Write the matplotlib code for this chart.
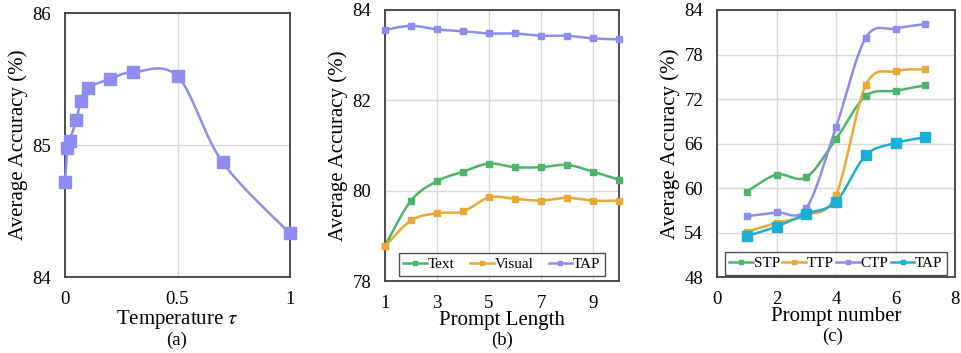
import numpy as np
import matplotlib
matplotlib.use("Agg")
import matplotlib.pyplot as plt
from matplotlib.lines import Line2D

plt.rcParams['font.family'] = ['Liberation Serif', 'DejaVu Serif']
plt.rcParams['mathtext.fontset'] = 'stix'

# ---------------- data ----------------
temp_x = [0.0, 0.01, 0.02, 0.05, 0.07, 0.1, 0.2, 0.3, 0.5, 0.7, 1.0]
temp_acc = [84.72, 84.98, 85.03, 85.19, 85.33, 85.43, 85.50, 85.55, 85.52, 84.87, 84.33]

length_x = [1, 2, 3, 4, 5, 6, 7, 8, 9, 10]
len_text = [78.78, 79.78, 80.21, 80.42, 80.60, 80.52, 80.52, 80.57, 80.42, 80.24]
len_visual = [78.77, 79.34, 79.50, 79.54, 79.85, 79.82, 79.78, 79.84, 79.78, 79.78]
len_tap = [83.56, 83.65, 83.57, 83.53, 83.48, 83.48, 83.43, 83.43, 83.37, 83.35]

num_x = [1, 2, 3, 4, 5, 6, 7]
num_stp = [59.5, 61.8, 61.45, 66.6, 72.4, 73.1, 73.85]
num_ttp = [54.1, 55.3, 56.3, 59.1, 73.85, 75.75, 76.0]
num_ctp = [56.2, 56.7, 57.25, 68.2, 80.25, 81.5, 82.1]
num_tap = [53.5, 54.8, 56.5, 58.15, 64.4, 66.05, 66.85]

C_PURPLE = '#8c8cf2'
C_GREEN = '#4db56a'
C_ORANGE = '#e9a935'
C_CYAN = '#1ab0d4'
GRID = '#d9d9d9'
SPINE = '#3f3f3f'


def smooth(x, y, xr, yr, n=40):
    """Excel-like smoothed line (Bezier through points, in screen-normalized space)."""
    x = np.asarray(x, float); y = np.asarray(y, float)
    sx = (x - xr[0]) / (xr[1] - xr[0]); sy = (y - yr[0]) / (yr[1] - yr[0])
    P = np.column_stack([sx, sy])
    m = len(P)
    out = []
    for i in range(m - 1):
        p0 = P[i - 1] if i > 0 else P[i]
        p1 = P[i]; p2 = P[i + 1]
        p3 = P[i + 2] if i + 2 < m else P[i + 1]
        c1 = p1 + (p2 - p0) / 6.0
        c2 = p2 - (p3 - p1) / 6.0
        t = np.linspace(0, 1, n)[:, None]
        seg = ((1 - t) ** 3) * p1 + 3 * ((1 - t) ** 2) * t * c1 + 3 * (1 - t) * t ** 2 * c2 + t ** 3 * p2
        out.append(seg if i == 0 else seg[1:])
    Q = np.vstack(out)
    return Q[:, 0] * (xr[1] - xr[0]) + xr[0], Q[:, 1] * (yr[1] - yr[0]) + yr[0]


def style(ax):
    for s in ax.spines.values():
        s.set_color(SPINE)
        s.set_linewidth(1.3)
    ax.tick_params(length=0, labelsize=13.5, pad=10)
    ax.grid(True, color=GRID, linewidth=1.0)
    ax.set_axisbelow(True)


def series(ax, x, y, xr, yr, color, ms, lw=1.8, label=None):
    sx, sy = smooth(x, y, xr, yr)
    ax.plot(sx, sy, color=color, lw=lw, zorder=3, clip_on=False)
    ax.plot(x, y, linestyle='none', marker='s', ms=ms, color=color, zorder=4, clip_on=False)
    return Line2D([], [], color=color, lw=lw, marker='s', ms=3.5, label=label)


W, H = 961, 353
fig = plt.figure(figsize=(W / 100, H / 100), dpi=100)


def box(l, t, r, b):
    return [l / W, 1 - b / H, (r - l) / W, (b - t) / H]


def legend(ax, handles, ncol, anchor_y, colsp):
    leg = ax.legend(handles=handles, loc='lower center', bbox_to_anchor=(0.5, anchor_y), ncol=ncol,
                    fontsize=11, frameon=True, fancybox=False, handlelength=1.55,
                    handletextpad=0.05, columnspacing=colsp, borderpad=0.3, borderaxespad=0.15)
    leg.get_frame().set_edgecolor('#222222')
    leg.get_frame().set_linewidth(1.0)
    return leg


# ---------------- (a) ----------------
axa = fig.add_axes(box(65, 13, 290, 277))
xr, yr = (0, 1), (84, 86)
axa.set_xlim(*xr); axa.set_ylim(*yr)
series(axa, temp_x, temp_acc, xr, yr, C_PURPLE, ms=8.5, lw=1.8)
axa.set_xticks([0, 0.5, 1]); axa.set_xticklabels(['0', '0.5', '1'])
axa.set_yticks([84, 85, 86])
style(axa)
axa.set_ylabel('Average Accuracy (%)', fontsize=15, labelpad=3)
axa.set_xlabel(r'Temperature $\tau$', fontsize=15, labelpad=0)
fig.text(177 / W, 1 - 340 / H, '(a)', ha='center', va='center', fontsize=13.5)

# ---------------- (b) ----------------
axb = fig.add_axes(box(385, 10, 619, 281))
xr, yr = (1, 10), (78, 84)
axb.set_xlim(*xr); axb.set_ylim(*yr)
h1 = series(axb, length_x, len_text, xr, yr, C_GREEN, ms=4.5, label='Text')
h2 = series(axb, length_x, len_visual, xr, yr, C_ORANGE, ms=4.5, label='Visual')
h3 = series(axb, length_x, len_tap, xr, yr, C_PURPLE, ms=4.5, label='TAP')
axb.set_xticks([1, 3, 5, 7, 9]); axb.set_yticks([78, 80, 82, 84])
style(axb)
axb.set_ylabel('Average Accuracy (%)', fontsize=15, labelpad=3)
axb.set_xlabel('Prompt Length', fontsize=15, labelpad=-1)
legend(axb, [h1, h2, h3], 3, 0.01, 1.0)
fig.text(502 / W, 1 - 340 / H, '(b)', ha='center', va='center', fontsize=13.5)

# ---------------- (c) ----------------
axc = fig.add_axes(box(717, 10, 955, 277))
xr, yr = (0, 8), (48, 84)
axc.set_xlim(*xr); axc.set_ylim(*yr)
g1 = series(axc, num_x, num_stp, xr, yr, C_GREEN, ms=4.5, label='STP')
g2 = series(axc, num_x, num_ttp, xr, yr, C_ORANGE, ms=4.5, label='TTP')
g3 = series(axc, num_x, num_ctp, xr, yr, C_PURPLE, ms=4.5, label='CTP')
g4 = series(axc, num_x, num_tap, xr, yr, C_CYAN, ms=6.5, label='TAP')
axc.set_xticks([0, 2, 4, 6, 8]); axc.set_yticks([48, 54, 60, 66, 72, 78, 84])
style(axc)
axc.set_ylabel('Average Accuracy (%)', fontsize=15, labelpad=3)
axc.set_xlabel('Prompt number', fontsize=15, labelpad=-1)
legend(axc, [g1, g2, g3, g4], 4, 0.0, 0.15)
fig.text(833 / W, 1 - 336 / H, '(c)', ha='center', va='center', fontsize=13.5)

fig.savefig('out.png', dpi=100)
